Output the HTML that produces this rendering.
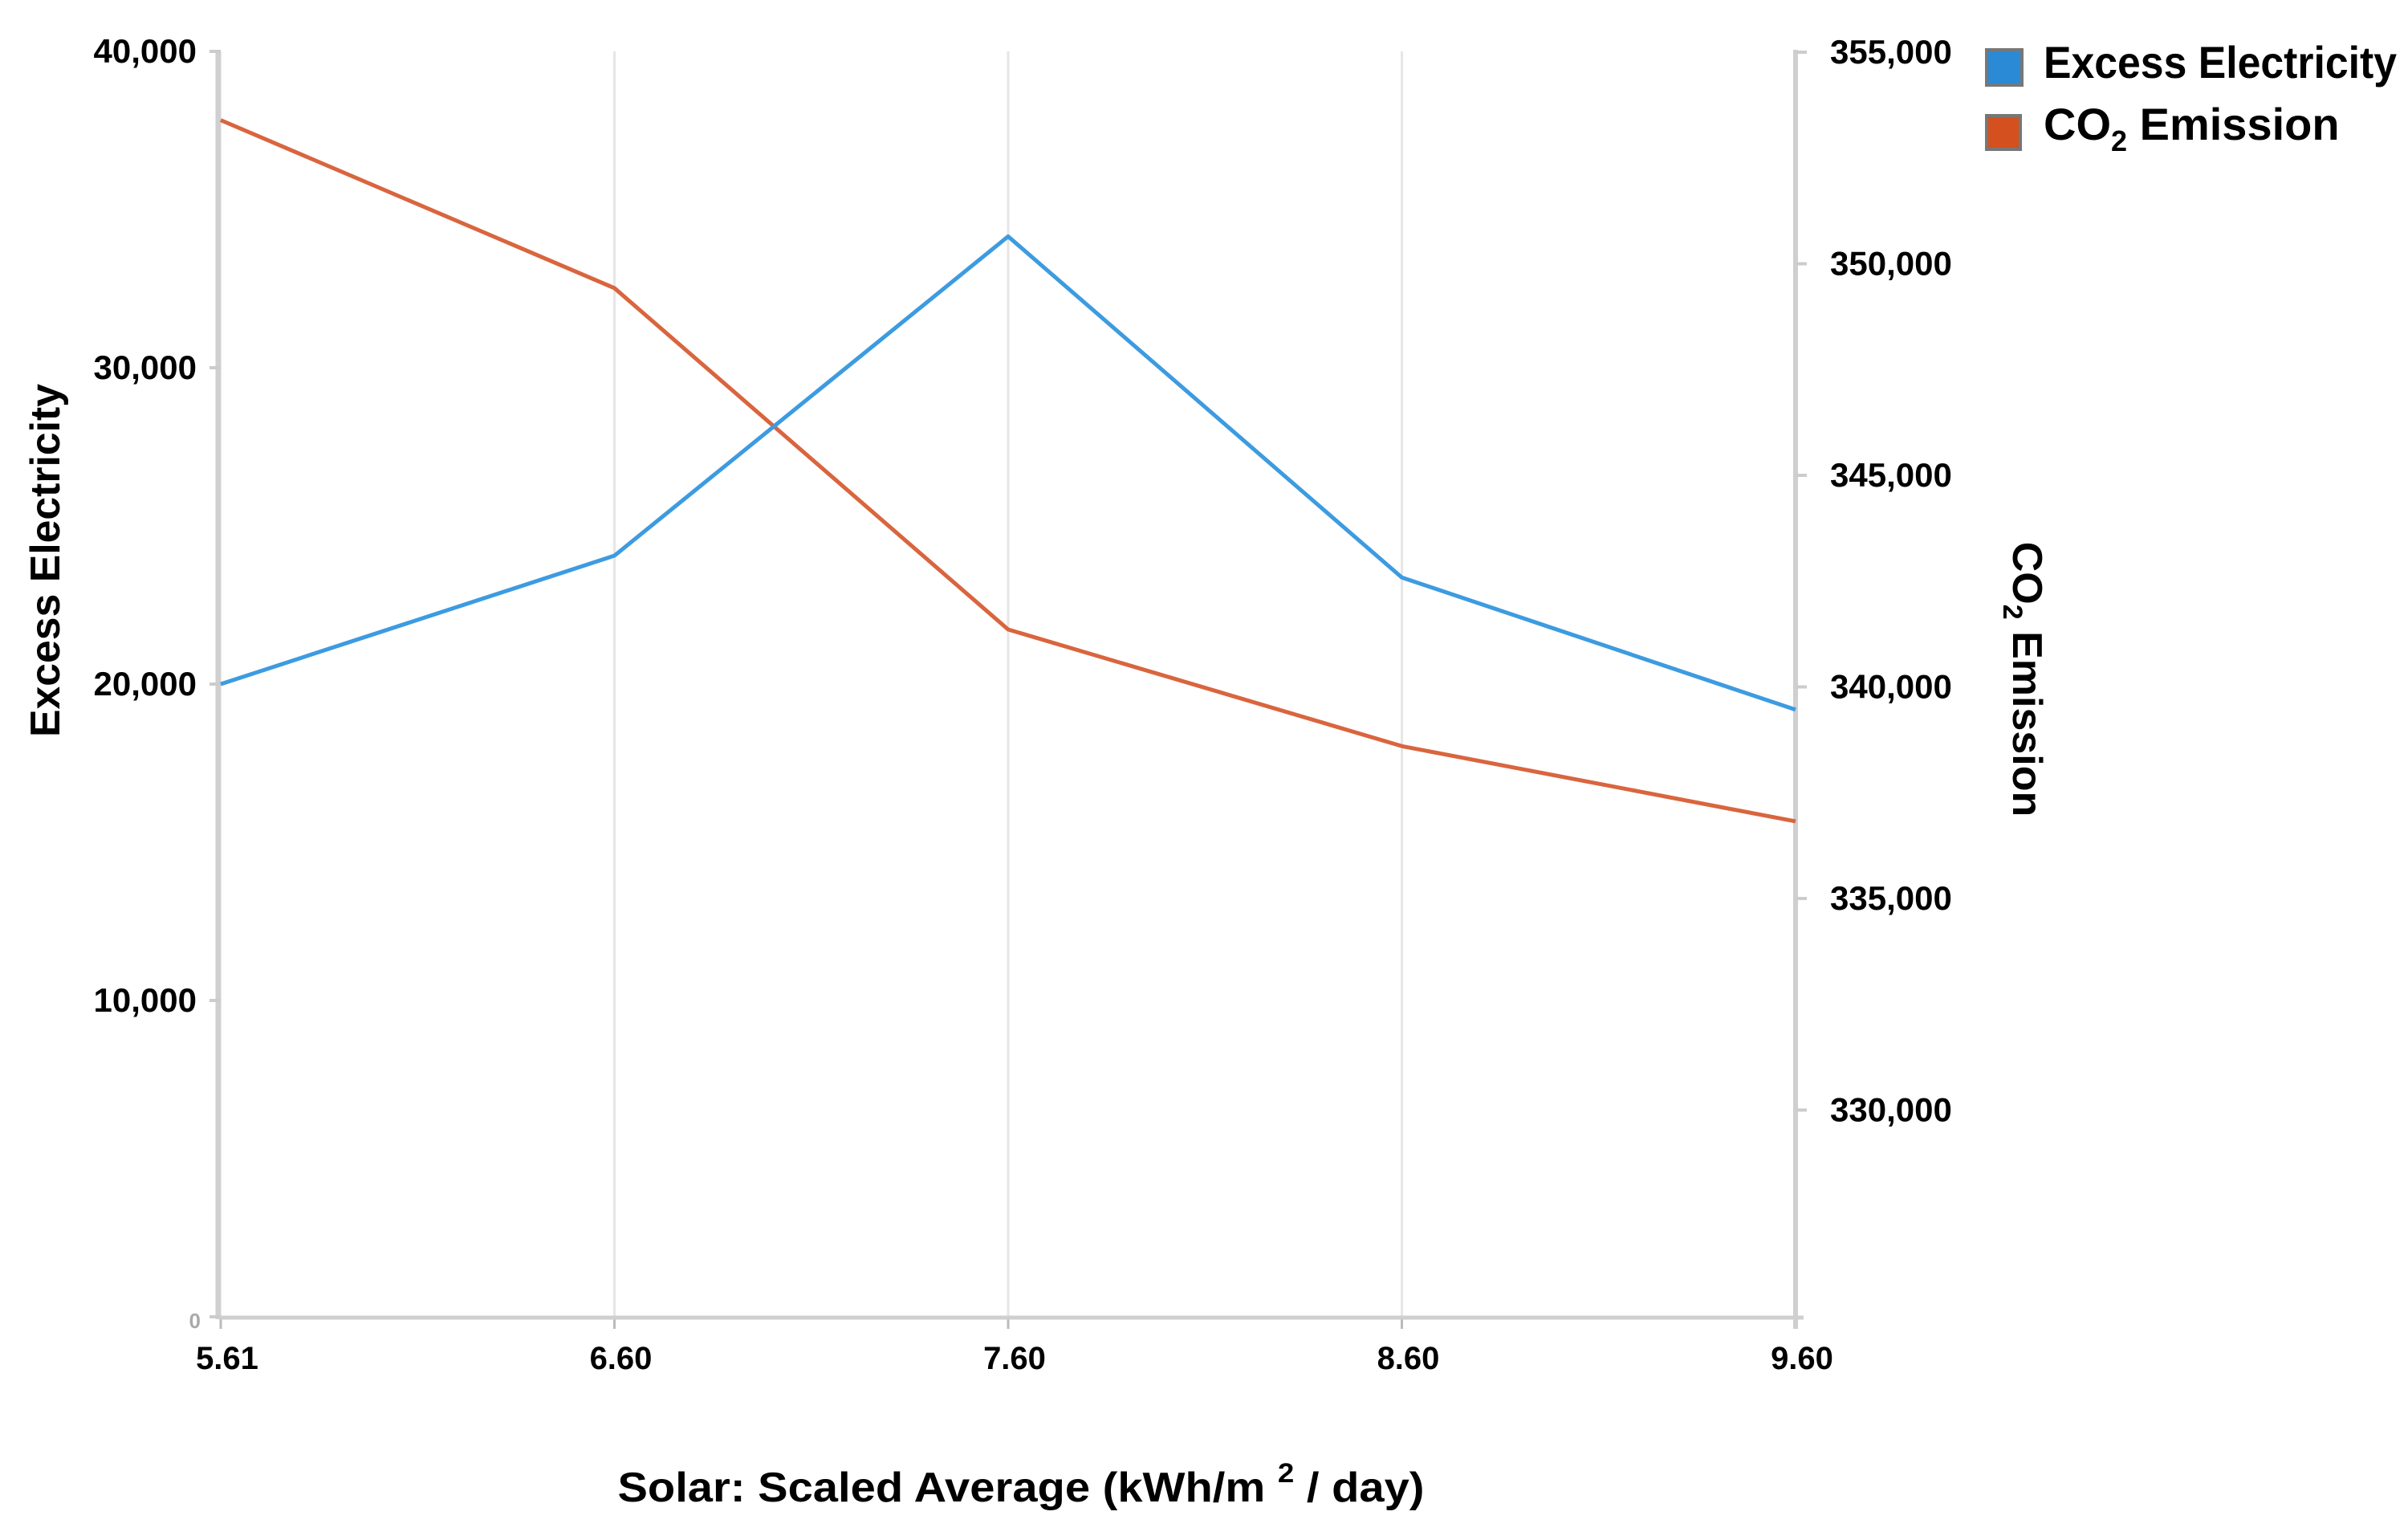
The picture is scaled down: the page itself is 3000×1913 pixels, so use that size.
<!DOCTYPE html>
<html><head><meta charset="utf-8"><style>
html,body{margin:0;padding:0;background:#fff;}
svg{display:block;font-family:"Liberation Sans",sans-serif;}
</style></head><body>
<svg id="chart" width="3000" height="1913" viewBox="0 0 3000 1913" xmlns="http://www.w3.org/2000/svg">
<g id="grid"></g>
<g id="axes"></g>
<g id="series"></g>
<text x="1272" y="1870" font-size="52" font-weight="bold" text-anchor="middle" textLength="1005" lengthAdjust="spacingAndGlyphs">Solar: Scaled Average (kWh/m <tspan font-size="34" dy="-24">2</tspan><tspan dy="24"> / day)</tspan></text>
<text transform="translate(74,698) rotate(-90)" font-size="52" font-weight="bold" text-anchor="middle" textLength="440" lengthAdjust="spacingAndGlyphs">Excess Electricity</text>
<text transform="translate(2508,846) rotate(90)" font-size="52" font-weight="bold" text-anchor="middle">CO<tspan font-size="34" dy="12">2</tspan><tspan dy="-12"> Emission</tspan></text>
<g>
<rect x="2475" y="62" width="44" height="44" fill="#2a8ad6" stroke="#777" stroke-width="4"/>
<text x="2546" y="97" font-size="56" font-weight="bold" textLength="440" lengthAdjust="spacingAndGlyphs">Excess Electricity</text>
<rect x="2475" y="144" width="42" height="42" fill="#d4501e" stroke="#777" stroke-width="4"/>
<text x="2546" y="174" font-size="56" font-weight="bold">CO<tspan font-size="36" dy="14">2</tspan><tspan dy="-14"> Emission</tspan></text>
</g>
</svg>
<script>
const categories = ["5.61","6.60","7.60","8.60","9.60"];
const excessValues = [20000, 24060, 34150, 23370, 19190];
const co2Values = [353394, 349425, 341357, 338600, 336822];
const leftTicks = [0, 10000, 20000, 30000, 40000];
const leftTickLabels = ["0","10,000","20,000","30,000","40,000"];
const rightTicks = [330000, 335000, 340000, 345000, 350000, 355000];
const rightTickLabels = ["330,000","335,000","340,000","345,000","350,000","355,000"];

const NS = "http://www.w3.org/2000/svg";
const X0 = 275, X1 = 2237;
const Y0 = 1640;
const xPos = i => X0 + i * (X1 - X0) / (categories.length - 1);
const yLeft = v => Y0 - v * (Y0 - 64) / 40000;
const yRight = v => 65 + (355000 - v) * 263.5 / 5000;
function mk(tag, attrs, parent){const e=document.createElementNS(NS,tag);for(const k in attrs)e.setAttribute(k,attrs[k]);parent.appendChild(e);return e;}
const grid=document.getElementById('grid'), axes=document.getElementById('axes'), series=document.getElementById('series');

categories.forEach((c,i)=>{
  const x=xPos(i);
  if(i>0&&i<categories.length-1){
    const g=mk('line',{x1:x,y1:64,x2:x,y2:Y0,stroke:'#e6e6e6','stroke-width':3},grid);
    
    
  }
  const t=mk('line',{x1:x,y1:Y0,x2:x,y2:Y0+15,stroke:'#bbb','stroke-width':3},axes);
  
  
  const l=mk('text',{x:x+8,y:1705,'font-size':40,'font-weight':'bold','text-anchor':'middle'},axes);
  l.textContent=c;
  
  
});
let a=mk('line',{x1:X0-3,y1:64,x2:X0-3,y2:Y0+3,stroke:'#d0d0d0','stroke-width':7},axes);


a=mk('line',{x1:X0,y1:Y0+1,x2:X1+10,y2:Y0+1,stroke:'#cfcfcf','stroke-width':5},axes);


a=mk('line',{x1:X1,y1:62,x2:X1,y2:Y0+15,stroke:'#cfcfcf','stroke-width':6},axes);



leftTicks.forEach((v,i)=>{
  const y=yLeft(v);
  const t=mk('line',{x1:X0-14,y1:y,x2:X0,y2:y,stroke:'#ccc','stroke-width':4},axes);
  
  
  const l=mk('text',{x:i===0?250:245,y:y+14,'font-size':i===0?26:42,'font-weight':'bold','text-anchor':'end',fill:i===0?'#aaa':'#000'},axes);
  l.textContent=leftTickLabels[i];
  
  
});
rightTicks.forEach((v,i)=>{
  const y=yRight(v);
  const t=mk('line',{x1:X1,y1:y,x2:X1+14,y2:y,stroke:'#ccc','stroke-width':4},axes);
  
  
  const l=mk('text',{x:2280,y:y+14,'font-size':42,'font-weight':'bold'},axes);
  l.textContent=rightTickLabels[i];
  
  
});

const co2Line=mk('polyline',{points:co2Values.map((v,i)=>xPos(i)+','+yRight(v)).join(' '),fill:'none',stroke:'#d9653e','stroke-width':5,'stroke-linejoin':'round'},series);


const exLine=mk('polyline',{points:excessValues.map((v,i)=>xPos(i)+','+yLeft(v)).join(' '),fill:'none',stroke:'#3d9be0','stroke-width':5,'stroke-linejoin':'round'},series);


</script>
</body></html>
